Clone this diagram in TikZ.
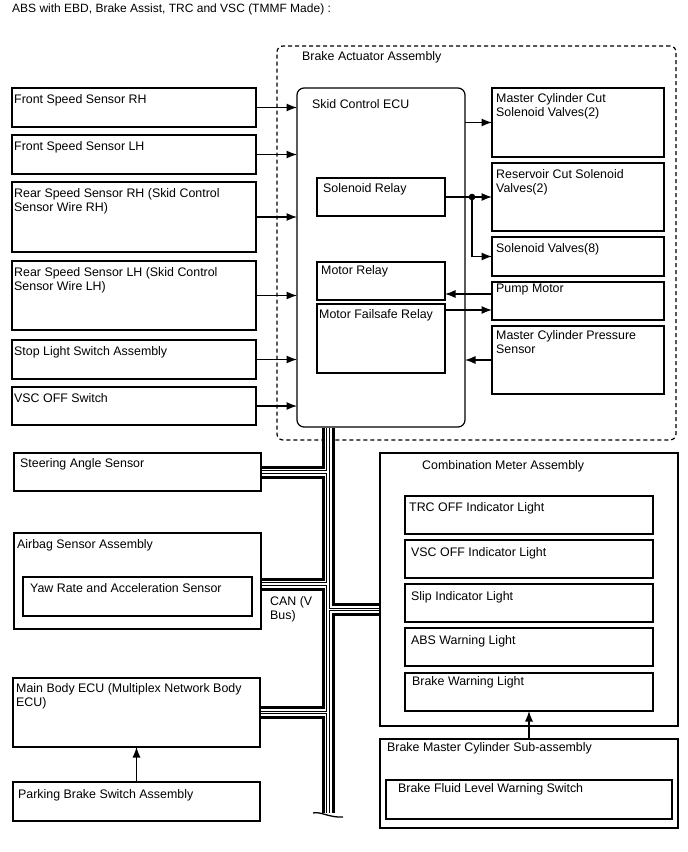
\documentclass[tikz,border=0pt]{standalone}
\usepackage{fontspec}
\setmainfont{Liberation Sans}
\usetikzlibrary{arrows.meta,positioning,calc}

\begin{document}
\begin{tikzpicture}[x=1pt, y=-1pt,
    font=\fontsize{12.4}{14.5}\selectfont,
    blk/.style={rectangle, draw, line width=1.2pt, anchor=north west, inner sep=0pt, outer sep=0pt},
    lbox/.style={blk, minimum width=244pt},
    rbox/.style={blk, minimum width=172pt},
    ibox/.style={blk, minimum width=248pt, minimum height=38pt},
    relay/.style={blk, minimum width=128pt},
    grp/.style={blk, dash pattern=on 4pt off 3pt, rounded corners=6pt},
    txt/.style={anchor=north west, align=left, inner xsep=4pt, inner ysep=5pt},
    note/.style={anchor=north west, align=left, inner sep=0pt},
    line/.style={draw, line width=1.2pt, -{Latex[length=10.5pt, width=8pt]}},
    canbus/.style={draw, line width=13pt,
        postaction={draw, white, line width=7pt},
        postaction={draw, black, line width=3.8pt},
        postaction={draw, white, line width=1.4pt}}
]
    \useasboundingbox (0,0) rectangle (688,852);

    \node[note, font=\fontsize{12}{14}\selectfont] (title) at (12,4) {ABS with EBD, Brake Assist, TRC and VSC (TMMF Made) :};

    \node[grp, minimum width=399pt, minimum height=394pt,
        label={[txt, xshift=21pt]north west:Brake Actuator Assembly}] (act) at (277,46) {};
    \node[blk, rounded corners=7pt, minimum width=168pt, minimum height=339pt,
        label={[txt, xshift=11pt, yshift=-6pt]north west:Skid Control ECU}] (ecu) at (297,88) {};
    \node[relay, minimum height=38pt, label={[txt, xshift=2pt]north west:Solenoid Relay}] (solrel) at (317,178) {};
    \node[relay, minimum height=38pt, label={[txt, inner ysep=3pt]north west:Motor Relay}] (motrel) at (317,262) {};
    \node[relay, minimum height=69pt, label={[txt, xshift=-2pt]north west:Motor Failsafe Relay}] (fsrel) at (317,304) {};

    \node[rbox, minimum height=69pt, label={[txt]north west:Master Cylinder Cut\\Solenoid Valves(2)}] (mcc) at (492,88) {};
    \node[rbox, minimum height=68pt, label={[txt, yshift=-1pt]north west:Reservoir Cut Solenoid\\Valves(2)}] (rcv) at (492,163) {};
    \node[rbox, minimum height=39pt, label={[txt, yshift=-1pt]north west:Solenoid Valves(8)}] (sv8) at (492,237) {};
    \node[rbox, minimum height=38pt, label={[txt, inner ysep=2pt]north west:Pump Motor}] (pump) at (492,282) {};
    \node[rbox, minimum height=68pt, label={[txt, inner ysep=4pt]north west:Master Cylinder Pressure\\Sensor}] (mcps) at (492,326) {};

    \node[lbox, minimum height=39pt, label={[txt, xshift=-2pt, yshift=-1pt]north west:Front Speed Sensor RH}] (fsrh) at (12,88) {};
    \node[lbox, minimum height=39pt, label={[txt, xshift=-2pt, yshift=-1pt]north west:Front Speed Sensor LH}] (fslh) at (12,135) {};
    \node[lbox, minimum height=70pt, label={[txt, xshift=-2pt, yshift=-1pt]north west:Rear Speed Sensor RH (Skid Control\\Sensor Wire RH)}] (rsrh) at (12,182) {};
    \node[lbox, minimum height=69pt, label={[txt, xshift=-2pt, yshift=-1pt]north west:Rear Speed Sensor LH (Skid Control\\Sensor Wire LH)}] (rslh) at (12,261) {};
    \node[lbox, minimum height=39pt, label={[txt, xshift=-2pt, yshift=-1pt]north west:Stop Light Switch Assembly}] (stop) at (12,340) {};
    \node[lbox, minimum height=38pt, label={[txt, xshift=-2pt, yshift=-1pt]north west:VSC OFF Switch}] (vscsw) at (12,387) {};

    \node[lbox, minimum width=247pt, minimum height=38pt, label={[txt, xshift=2pt]north west:Steering Angle Sensor}] (steer) at (14,453) {};
    \node[lbox, minimum width=247pt, minimum height=96pt, label={[txt, xshift=-1pt, yshift=-1pt]north west:Airbag Sensor Assembly}] (airbag) at (14,533) {};
    \node[blk, minimum width=229pt, minimum height=39pt, label={[txt, xshift=3pt, yshift=-1pt]north west:Yaw Rate and Acceleration Sensor}] (yaw) at (23,577) {};
    \node[lbox, minimum width=247pt, minimum height=69pt, label={[txt, xshift=-1pt]north west:Main Body ECU (Multiplex Network Body\\ECU)}] (mainecu) at (13,678) {};
    \node[lbox, minimum width=247pt, minimum height=39pt, label={[txt, xshift=1pt, yshift=-2pt]north west:Parking Brake Switch Assembly}] (parking) at (13,782) {};

    \node[blk, minimum width=298pt, minimum height=273pt,
        label={[txt, xshift=38pt, yshift=-2pt]north west:Combination Meter Assembly}] (meter) at (380,453) {};
    \node[ibox, label={[txt, yshift=-1pt]north west:TRC OFF Indicator Light}] (trc) at (405,496) {};
    \node[ibox, label={[txt, xshift=2pt, yshift=-2pt]north west:VSC OFF Indicator Light}] (vscl) at (405,540) {};
    \node[ibox, label={[txt, xshift=2pt, yshift=-2pt]north west:Slip Indicator Light}] (slip) at (405,584) {};
    \node[ibox, label={[txt, xshift=2pt, yshift=-2pt]north west:ABS Warning Light}] (absl) at (405,628) {};
    \node[ibox, label={[txt, xshift=3pt, inner ysep=3pt]north west:Brake Warning Light}] (bwl) at (405,673) {};
    \node[blk, minimum width=298pt, minimum height=89pt,
        label={[txt, xshift=3pt, inner ysep=3pt]north west:Brake Master Cylinder Sub-assembly}] (bmc) at (380,739) {};
    \node[blk, minimum width=286pt, minimum height=39pt,
        label={[txt, xshift=8pt, inner ysep=3pt]north west:Brake Fluid Level Warning Switch}] (bfl) at (386,780) {};

    \node[note] (canlbl) at (270,596) {CAN (V\\Bus)};

    \path[line] (fsrh.east) -- (fsrh.east -| ecu.west);
    \path[line] (fslh.east) -- (fslh.east -| ecu.west);
    \path[line] (rsrh.east) -- (rsrh.east -| ecu.west);
    \path[line] (rslh.east) -- (rslh.east -| ecu.west);
    \path[line] (stop.east) -- (stop.east -| ecu.west);
    \path[line] (vscsw.east) -- (vscsw.east -| ecu.west);

    \coordinate (jn) at ([xshift=27pt]solrel.east);
    \path[line] (mcc.west -| ecu.east) -- (mcc.west);
    \path[line] (solrel.east) -- (rcv.west);
    \path[line] (jn) |- (sv8.west);
    \fill (jn) circle (3.3pt);
    \path[line] ([yshift=7pt]pump.west) -- ([yshift=7pt]pump.west -| motrel.east);
    \path[line] ([yshift=-9pt]pump.west -| fsrel.east) -- ([yshift=-9pt]pump.west);
    \path[line] (mcps.west) -- (mcps.west -| ecu.east);

    \path[line] (parking.north) -- (mainecu.south);
    \path[line] (bmc.north) -- (bwl.south);

    \coordinate (bustop) at ([xshift=-53pt, yshift=-0.6pt]ecu.south);
    \coordinate (busbot) at (bustop |- 0,813);
    \path[canbus] (bustop) -- (busbot)
        ([xshift=0.6pt]steer.east) -- (steer.east -| bustop)
        ([xshift=0.6pt, yshift=-3pt]airbag.east) -- ([yshift=-3pt]airbag.east -| bustop)
        ([xshift=0.6pt]mainecu.east) -- (mainecu.east -| bustop)
        ([xshift=-0.6pt, yshift=-20pt]meter.west) -- ([yshift=-20pt]meter.west -| bustop);
    \draw[line width=1.3pt] ($(busbot)+(-15,0)$) .. controls ($(busbot)+(-8,-2)$) and ($(busbot)+(2,5)$) .. ($(busbot)+(15,4)$);
\end{tikzpicture}
\end{document}
